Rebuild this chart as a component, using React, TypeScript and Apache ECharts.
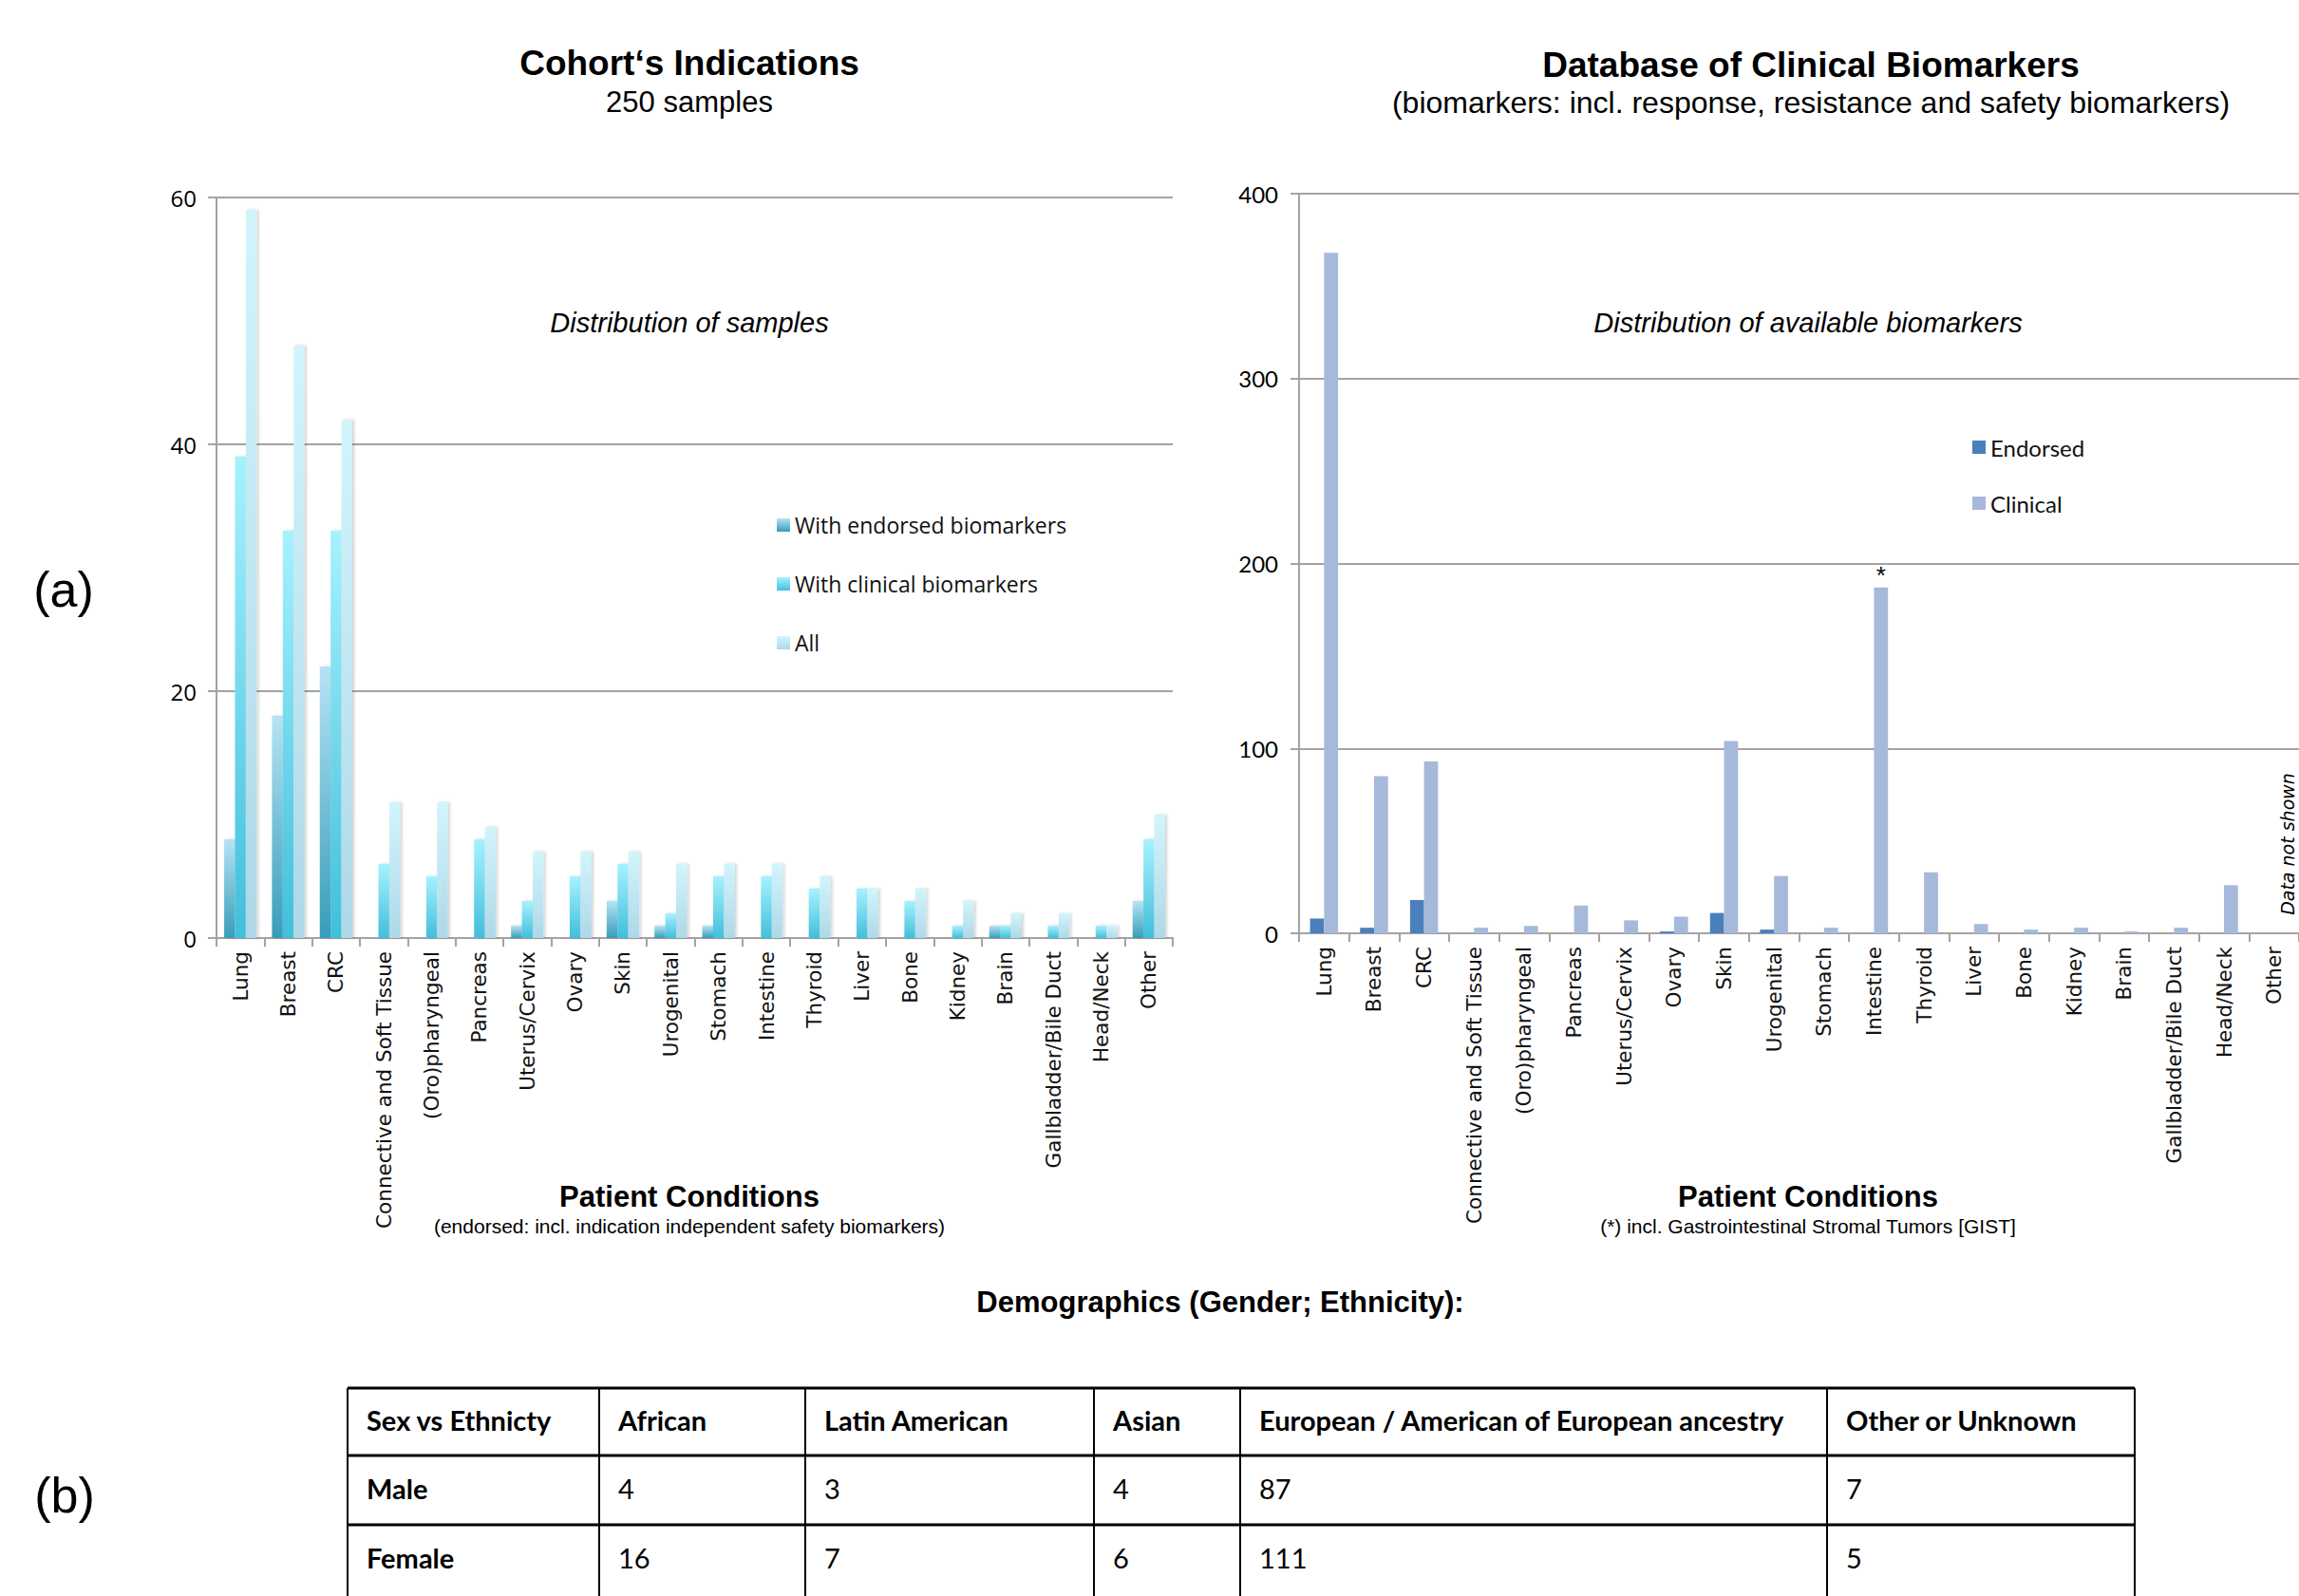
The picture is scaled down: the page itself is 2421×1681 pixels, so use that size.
import React, { useEffect, useRef } from 'react';
import * as echarts from 'echarts';

// ---------- DATA ----------
const categories = [
  'Lung', 'Breast', 'CRC', 'Connective and Soft Tissue', '(Oro)pharyngeal', 'Pancreas',
  'Uterus/Cervix', 'Ovary', 'Skin', 'Urogenital', 'Stomach', 'Intestine', 'Thyroid',
  'Liver', 'Bone', 'Kidney', 'Brain', 'Gallbladder/Bile Duct', 'Head/Neck', 'Other',
];

// Left chart: Cohort's indications (number of samples)
const samplesEndorsed = [8, 18, 22, 0, 0, 0, 1, 0, 3, 1, 1, 0, 0, 0, 0, 0, 1, 0, 0, 3];
const samplesClinical = [39, 33, 33, 6, 5, 8, 3, 5, 6, 2, 5, 5, 4, 4, 3, 1, 1, 1, 1, 8];
const samplesAll = [59, 48, 42, 11, 11, 9, 7, 7, 7, 6, 6, 6, 5, 4, 4, 3, 2, 2, 1, 10];

// Right chart: Database of clinical biomarkers
const biomarkersEndorsed = [8, 3, 18, 0, 0, 0, 0, 1, 11, 2, 0, 0, 0, 0, 0, 0, 0, 0, 0, null];
const biomarkersClinical = [368, 85, 93, 3, 4, 15, 7, 9, 104, 31, 3, 187, 33, 5, 2, 3, 1, 3, 26, null];
const biomarkerNotes = ['', '', '', '', '', '', '', '', '', '', '', '*', '', '', '', '', '', '', '', ''];

const leftSeriesNames = ['With endorsed biomarkers', 'With clinical biomarkers', 'All'];
const rightSeriesNames = ['Endorsed', 'Clinical'];

// Demographics table
const tableHeader = ['Sex vs Ethnicty', 'African', 'Latin American', 'Asian', 'European / American of European ancestry', 'Other or Unknown'];
const rowLabels = ['Male', 'Female'];
const maleCounts = [4, 3, 4, 87, 7];
const femaleCounts = [16, 7, 6, 111, 5];

// ---------- LAYOUT ----------
const W = 2421;
const H = 1681;
const colEdges = [366, 631, 848, 1152, 1306, 1924, 2248];
const rowEdges = [1462, 1533, 1606, 1679];

const grad = (top: string, bottom: string) =>
  new echarts.graphic.LinearGradient(0, 0, 0, 1, [
    { offset: 0, color: top },
    { offset: 1, color: bottom },
  ]);

const GRAY = '#a3a3a3';

function buildTable(): any[] {
  const els: any[] = [];
  const top = rowEdges[0];
  for (let r = 0; r < rowEdges.length - 1; r++) {
    els.push({
      type: 'line',
      shape: { x1: colEdges[0], y1: rowEdges[r], x2: colEdges[colEdges.length - 1], y2: rowEdges[r] },
      style: { stroke: '#000', lineWidth: 3 },
    });
  }
  colEdges.forEach((x) => {
    els.push({
      type: 'line',
      shape: { x1: x, y1: top, x2: x, y2: H + 5 },
      style: { stroke: '#000', lineWidth: 2 },
    });
  });
  const rows: (string | number)[][] = [
    tableHeader,
    [rowLabels[0], ...maleCounts],
    [rowLabels[1], ...femaleCounts],
  ];
  rows.forEach((row, r) => {
    const cy = (rowEdges[r] + rowEdges[r + 1]) / 2 - 2;
    row.forEach((cell, c) => {
      els.push({
        type: 'text',
        x: colEdges[c] + 20,
        y: cy,
        style: {
          text: String(cell),
          fontFamily: 'Lato, "Open Sans", sans-serif',
          fontSize: 29,
          fontWeight: r === 0 || c === 0 ? 'bold' : 'normal',
          fill: '#000',
          align: 'left',
          verticalAlign: 'middle',
        },
      });
    });
  });
  return els;
}

function txt(text: string, x: number, y: number, size: number, opts: any = {}) {
  return {
    type: 'text',
    x,
    y,
    rotation: opts.rotation || 0,
    style: {
      text,
      fontFamily: opts.family || '"Liberation Sans", Arial, sans-serif',
      fontSize: size,
      fontWeight: opts.weight || 'normal',
      fontStyle: opts.style || 'normal',
      fill: '#000',
      align: 'center',
      verticalAlign: 'middle',
    },
  };
}

export default function App() {
  const ref = useRef<HTMLDivElement>(null);

  useEffect(() => {
    if (!ref.current) return;
    const chart = echarts.init(ref.current, undefined, { renderer: 'svg', width: W, height: H });

    const xLabel = {
      interval: 0,
      rotate: 90,
      margin: 14,
      fontSize: 21.5,
      fontFamily: '"DejaVu Sans", Verdana, sans-serif',
      color: '#111',
    };
    const axisLine = { show: true, lineStyle: { color: GRAY, width: 2 } };
    const axisTick = { show: true, length: 9, lineStyle: { color: GRAY, width: 2 } };
    const splitLine = { show: true, lineStyle: { color: GRAY, width: 2 } };
    const shadow = { shadowColor: 'rgba(0,0,0,0.18)', shadowBlur: 3, shadowOffsetX: 2 };

    const option: any = {
      animation: false,
      backgroundColor: '#ffffff',
      grid: [
        { left: 228, top: 208, width: 1007, height: 780 },
        { left: 1368, top: 204, width: 1062, height: 779 },
      ],
      xAxis: [
        { gridIndex: 0, type: 'category', data: categories, axisLine, axisTick, axisLabel: xLabel },
        { gridIndex: 1, type: 'category', data: categories, axisLine, axisTick, axisLabel: xLabel },
      ],
      yAxis: [
        {
          gridIndex: 0, type: 'value', min: 0, max: 60, interval: 20, axisLine, axisTick, splitLine,
          axisLabel: { fontSize: 24, fontFamily: '"Open Sans", sans-serif', color: '#000', margin: 21 },
        },
        {
          gridIndex: 1, type: 'value', min: 0, max: 400, interval: 100, axisLine, axisTick, splitLine,
          axisLabel: { fontSize: 24, fontFamily: 'Lato, "Open Sans", sans-serif', color: '#000', margin: 22 },
        },
      ],
      legend: [
        {
          data: leftSeriesNames,
          orient: 'vertical',
          left: 818,
          top: 541,
          padding: 0,
          itemWidth: 14,
          itemHeight: 14,
          itemGap: 38,
          icon: 'rect',
          selectedMode: false,
          textStyle: { fontSize: 23, fontFamily: '"Open Sans", sans-serif', color: '#111', lineHeight: 24 },
        },
        {
          data: rightSeriesNames,
          orient: 'vertical',
          left: 2077,
          top: 459,
          padding: 0,
          itemWidth: 14,
          itemHeight: 14,
          itemGap: 35,
          icon: 'rect',
          selectedMode: false,
          textStyle: { fontSize: 24, fontFamily: 'Lato, "Open Sans", sans-serif', color: '#111', lineHeight: 24 },
        },
      ],
      series: [
        {
          name: leftSeriesNames[0], type: 'bar', xAxisIndex: 0, yAxisIndex: 0, data: samplesEndorsed,
          barGap: '0%', barCategoryGap: '32%',
          itemStyle: { color: grad('#b6e3f4', '#389db9'), ...shadow },
        },
        {
          name: leftSeriesNames[1], type: 'bar', xAxisIndex: 0, yAxisIndex: 0, data: samplesClinical,
          barGap: '0%', barCategoryGap: '32%',
          itemStyle: { color: grad('#a6f2fe', '#41bfdc'), ...shadow },
        },
        {
          name: leftSeriesNames[2], type: 'bar', xAxisIndex: 0, yAxisIndex: 0, data: samplesAll,
          barGap: '0%', barCategoryGap: '32%',
          itemStyle: { color: grad('#d2f5fc', '#aed8e8'), ...shadow },
        },
        {
          name: rightSeriesNames[0], type: 'bar', xAxisIndex: 1, yAxisIndex: 1, data: biomarkersEndorsed,
          barGap: '0%', barCategoryGap: '44%',
          itemStyle: { color: '#4b7fbc' },
        },
        {
          name: rightSeriesNames[1], type: 'bar', xAxisIndex: 1, yAxisIndex: 1,
          data: biomarkersClinical.map((v, i) =>
            biomarkerNotes[i]
              ? {
                  value: v,
                  label: {
                    show: true, position: 'top', distance: 0, formatter: biomarkerNotes[i],
                    fontSize: 26, color: '#000', fontFamily: '"Liberation Sans", Arial, sans-serif',
                  },
                }
              : v,
          ),
          barGap: '0%', barCategoryGap: '44%',
          itemStyle: { color: '#a6b9db' },
        },
      ],
      graphic: {
        elements: [
          txt('(a)', 67, 621, 52),
          txt('(b)', 68, 1575, 52),
          txt('Cohort‘s Indications', 726, 66, 37, { weight: 'bold' }),
          txt('250 samples', 726, 107, 31),
          txt('Database of Clinical Biomarkers', 1907, 68, 37, { weight: 'bold' }),
          txt('(biomarkers: incl. response, resistance and safety biomarkers)', 1907, 108, 32),
          txt('Distribution of samples', 726, 340, 29, { style: 'italic' }),
          txt('Distribution of available biomarkers', 1904, 340, 29, { style: 'italic' }),
          txt('Patient Conditions', 726, 1260, 31, { weight: 'bold' }),
          txt('(endorsed: incl. indication independent safety biomarkers)', 726, 1291, 21),
          txt('Patient Conditions', 1904, 1260, 31, { weight: 'bold' }),
          txt('(*) incl. Gastrointestinal Stromal Tumors [GIST]', 1904, 1291, 21),
          txt('Data not shown', 2409, 889, 19, {
            style: 'italic', rotation: Math.PI / 2, family: '"DejaVu Sans", Verdana, sans-serif',
          }),
          txt('Demographics (Gender; Ethnicity):', 1285, 1371, 31, { weight: 'bold' }),
          ...buildTable(),
        ],
      },
    };

    chart.setOption(option);
    return () => chart.dispose();
  }, []);

  return (
    <div
      ref={ref}
      style={{ position: 'absolute', left: 0, top: 0, width: W, height: H, overflow: 'hidden', background: '#fff' }}
    />
  );
}
